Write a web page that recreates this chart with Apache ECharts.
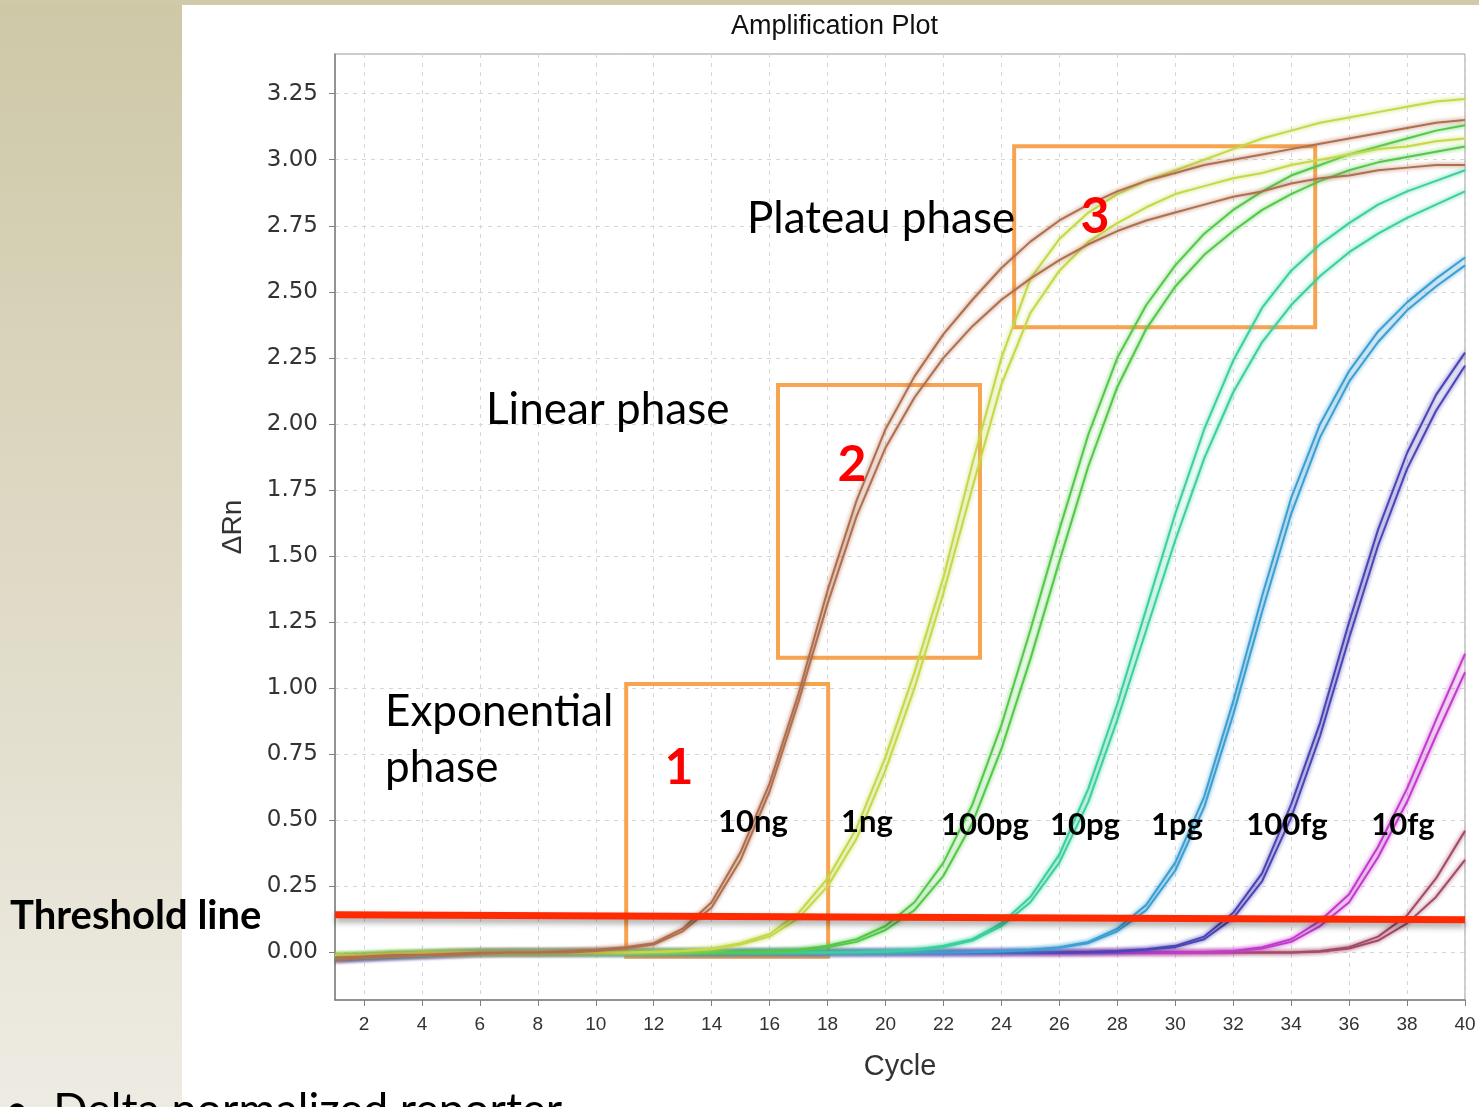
<!DOCTYPE html>
<html>
<head>
<meta charset="utf-8">
<title>Amplification Plot</title>
<script src="https://cdn.jsdelivr.net/npm/echarts@6/dist/echarts.min.js"></script>
<style>
  html, body { margin: 0; padding: 0; background: #fff; }
  #main { width: 1479px; height: 1107px; }
</style>
</head>
<body>
<div id="main"></div>
<script type="text/javascript">
// cycle numbers (x) and tick values
var cycles = [1,2,3,4,5,6,7,8,9,10,11,12,13,14,15,16,17,18,19,20,21,22,23,24,25,26,27,28,29,30,31,32,33,34,35,36,37,38,39,40];
var xTicks = [2,4,6,8,10,12,14,16,18,20,22,24,26,28,30,32,34,36,38,40];
var yTicks = [0,0.25,0.5,0.75,1,1.25,1.5,1.75,2,2.25,2.5,2.75,3,3.25];

// delta Rn per cycle, two replicates per dilution
var ng10a = [-0.02,-0.015,-0.01,-0.01,-0.005,0,0,0,0.005,0.01, 0.02,0.035,0.09,0.19,0.38,0.64,0.98,1.37,1.71,1.98, 2.18,2.34,2.47,2.59,2.69,2.77,2.83,2.88,2.92,2.95, 2.98,3.00,3.02,3.04,3.06,3.08,3.10,3.12,3.14,3.15];
var ng10b = [-0.03,-0.02,-0.015,-0.01,-0.01,-0.005,0,0,0,0.005, 0.015,0.03,0.08,0.17,0.35,0.61,0.95,1.32,1.65,1.91, 2.10,2.25,2.37,2.47,2.55,2.62,2.68,2.73,2.77,2.80, 2.83,2.86,2.88,2.91,2.93,2.94,2.96,2.97,2.98,2.98];
var ng1a = [-0.01,-0.01,-0.005,-0.005,0,0,0,0,0,0, 0,0.003,0.005,0.015,0.035,0.07,0.15,0.28,0.47,0.74, 1.06,1.42,1.85,2.25,2.55,2.70,2.80,2.87,2.92,2.96, 3.00,3.04,3.08,3.11,3.14,3.16,3.18,3.20,3.22,3.23];
var ng1b = [-0.01,-0.01,-0.005,0,0,0,0,0,0,0, 0,0.002,0.005,0.012,0.03,0.06,0.13,0.25,0.43,0.69, 1.00,1.36,1.76,2.15,2.42,2.58,2.69,2.76,2.82,2.87, 2.90,2.93,2.95,2.98,3.00,3.02,3.04,3.05,3.07,3.08];
var pg100a = [-0.01,-0.01,-0.005,0,0,0,0,0,0,0, 0,0,0,0,0.002,0.005,0.01,0.025,0.05,0.10, 0.19,0.34,0.56,0.86,1.22,1.60,1.96,2.25,2.45,2.60, 2.72,2.81,2.88,2.94,2.98,3.02,3.05,3.08,3.11,3.13];
var pg100b = [-0.01,-0.005,0,0,0,0,0,0,0,0, 0,0,0,0,0.001,0.003,0.008,0.02,0.04,0.085, 0.16,0.29,0.49,0.77,1.11,1.48,1.84,2.14,2.36,2.52, 2.64,2.73,2.81,2.87,2.92,2.96,2.99,3.01,3.03,3.05];
var pg10a = [-0.02,-0.015,-0.01,-0.005,0,0,0,0,0,0, 0,0,0,0,0,0,0,0,0.002,0.005, 0.01,0.025,0.05,0.11,0.21,0.37,0.62,0.94,1.30,1.66, 1.98,2.24,2.44,2.58,2.68,2.76,2.83,2.88,2.92,2.96];
var pg10b = [-0.02,-0.01,-0.01,-0.005,0,0,0,0,0,0, 0,0,0,0,0,0,0,0,0.001,0.003, 0.008,0.02,0.045,0.10,0.19,0.34,0.57,0.88,1.22,1.56, 1.87,2.12,2.31,2.45,2.56,2.65,2.72,2.78,2.83,2.88];
var pg1a = [-0.02,-0.02,-0.015,-0.01,-0.005,0,0,0,0,0, 0,0,0,0,0,0,0,0,0,0, 0,0,0.002,0.005,0.01,0.02,0.04,0.09,0.18,0.34, 0.59,0.95,1.35,1.72,2.00,2.20,2.35,2.46,2.55,2.63];
var pg1b = [-0.02,-0.015,-0.01,-0.01,-0.005,0,0,0,0,0, 0,0,0,0,0,0,0,0,0,0, 0,0,0.001,0.004,0.008,0.018,0.035,0.08,0.16,0.31, 0.55,0.90,1.29,1.66,1.95,2.16,2.31,2.43,2.52,2.60];
var fg100a = [-0.025,-0.02,-0.015,-0.01,-0.005,0,0,0,0,0, 0,0,0,0,0,0,0,0,0,0, 0,0,0,0,0,0,0.002,0.005,0.012,0.025, 0.06,0.15,0.30,0.56,0.87,1.25,1.60,1.89,2.11,2.27];
var fg100b = [-0.03,-0.025,-0.02,-0.015,-0.01,-0.005,0,0,0,0, 0,0,0,0,0,0,0,0,0,0, 0,0,0,0,0,0,0.001,0.004,0.01,0.02, 0.05,0.13,0.27,0.51,0.82,1.19,1.54,1.83,2.05,2.22];
var fg10a = [-0.02,-0.015,-0.01,-0.01,-0.005,0,0,0,0,0, 0,0,0,0,0,0,0,0,0,0, 0,0,0,0,0,0,0,0,0,0, 0.002,0.005,0.02,0.05,0.12,0.22,0.40,0.62,0.88,1.13];
var fg10b = [-0.025,-0.02,-0.015,-0.01,-0.005,0,0,0,0,0, 0,0,0,0,0,0,0,0,0,0, 0,0,0,0,0,0,0,0,0,0, 0.001,0.004,0.015,0.04,0.10,0.19,0.36,0.57,0.82,1.06];
var fg1a = [-0.02,-0.015,-0.01,-0.005,0,0,0,0,0,0, 0,0,0,0,0,0,0,0,0,0, 0,0,0,0,0,0,0,0,0,0, 0,0,0,0,0.005,0.02,0.06,0.14,0.28,0.46];
var fg1b = [-0.025,-0.02,-0.01,-0.005,0,0,0,0,0,0, 0,0,0,0,0,0,0,0,0,0, 0,0,0,0,0,0,0,0,0,0, 0,0,0,0,0.003,0.015,0.045,0.11,0.21,0.35];

// threshold line end points
var thresholdX = [1, 40];
var thresholdY = [0.143, 0.124];

var curves = [
  { name: '1fg',   color: '#a34b68', a: fg1a,   b: fg1b },
  { name: '10fg',  color: '#c23ccc', a: fg10a,  b: fg10b },
  { name: '100fg', color: '#4b45b5', a: fg100a, b: fg100b },
  { name: '1pg',   color: '#3d9fd2', a: pg1a,   b: pg1b },
  { name: '10pg',  color: '#3ccfa0', a: pg10a,  b: pg10b },
  { name: '100pg', color: '#55c84a', a: pg100a, b: pg100b },
  { name: '1ng',   color: '#c5d84a', a: ng1a,   b: ng1b },
  { name: '10ng',  color: '#b06f4e', a: ng10a,  b: ng10b }
];

function pairs(xs, ys) {
  var out = [];
  for (var i = 0; i < xs.length; i++) out.push([xs[i], ys[i]]);
  return out;
}

var series = [];
curves.forEach(function (c) {
  [c.a, c.b].forEach(function (vals) {
    series.push({
      name: c.name,
      type: 'line',
      data: pairs(cycles, vals),
      showSymbol: false,
      lineStyle: { color: c.color, width: 2, shadowColor: c.color, shadowBlur: 4 },
      z: 3
    });
  });
});

// orange phase boxes (data coordinates)
var boxStyle = { color: 'rgba(0,0,0,0)', borderColor: '#f8a34f', borderWidth: 4 };
series.push({
  name: 'threshold',
  type: 'line',
  data: pairs(thresholdX, thresholdY),
  showSymbol: false,
  lineStyle: { color: '#ff2a00', width: 7, shadowColor: 'rgba(0,0,0,0.35)', shadowBlur: 6, shadowOffsetY: 4 },
  z: 5,
  markArea: {
    silent: true,
    label: { show: false },
    itemStyle: boxStyle,
    data: [
      [{ coord: [11.05, 1.016] }, { coord: [18.02, -0.016] }],
      [{ coord: [16.29, 2.147] }, { coord: [23.26, 1.115] }],
      [{ coord: [24.44, 3.051] }, { coord: [34.83, 2.366] }]
    ]
  }
});

var annoFont = 'Lato, "Open Sans", sans-serif';
function txt(text, x, y, size, weight, color, align) {
  return {
    type: 'text', z: 100,
    style: {
      text: text, x: x, y: y,
      font: (weight || 'normal') + ' ' + size + 'px ' + annoFont,
      fill: color || '#000',
      align: align || 'left', verticalAlign: 'middle'
    }
  };
}

var chart = echarts.init(document.getElementById('main'));
chart.setOption({
  animation: false,
  backgroundColor: '#ffffff',
  title: {
    text: 'Amplification Plot',
    left: 726, top: 8,
    textStyle: { fontFamily: 'Liberation Sans', fontSize: 27, fontWeight: 'normal', color: '#111' }
  },
  grid: {
    left: 335, right: 14, top: 54, bottom: 107,
    show: true, borderColor: '#9a9a9a', borderWidth: 1, backgroundColor: 'rgba(0,0,0,0)'
  },
  xAxis: {
    type: 'value', min: 1, max: 40,
    name: 'Cycle', nameLocation: 'middle', nameGap: 52,
    nameTextStyle: { fontFamily: 'Liberation Sans', fontSize: 29, color: '#333' },
    axisLine: { onZero: false, lineStyle: { color: '#7f7f7f', width: 1.5 } },
    axisTick: { show: true, length: 6, customValues: xTicks, lineStyle: { color: '#7f7f7f' } },
    axisLabel: { customValues: xTicks, fontFamily: 'Liberation Sans', fontSize: 19, color: '#333', margin: 15 },
    splitLine: { show: true, lineStyle: { color: '#d6d6d6', type: [4, 5] } }
  },
  yAxis: {
    type: 'value', min: -0.18, max: 3.40,
    name: 'ΔRn', nameLocation: 'middle', nameGap: 88, nameRotate: 90,
    nameTextStyle: { fontFamily: 'Liberation Sans', fontSize: 28, color: '#333' },
    axisLine: { show: true, onZero: false, lineStyle: { color: '#7f7f7f', width: 1.5 } },
    axisTick: { show: true, length: 6, customValues: yTicks, lineStyle: { color: '#7f7f7f' } },
    axisLabel: {
      customValues: yTicks, fontFamily: 'DejaVu Sans', fontSize: 23, color: '#333', margin: 17,
      formatter: function (v) { return v.toFixed(2); }
    },
    splitLine: { show: true, lineStyle: { color: '#d6d6d6', type: [4, 5] } }
  },
  series: series,
  graphic: [
    {
      type: 'rect', z: -10, shape: { x: 0, y: 0, width: 182, height: 1107 },
      style: { fill: new echarts.graphic.LinearGradient(0, 0, 0, 1, [
        { offset: 0, color: '#cec8a7' }, { offset: 1, color: '#eeebe3' }]) }
    },
    { type: 'rect', z: -10, shape: { x: 0, y: 0, width: 1479, height: 5 }, style: { fill: '#d0caab' } },
    txt('Plateau phase', 747, 219, 44),
    txt('Linear phase', 486, 410, 44),
    txt('Exponential', 385, 712, 44),
    txt('phase', 385, 768, 44),
    txt('3', 1095, 217, 50, 'bold', '#ff0000', 'center'),
    txt('2', 852, 465, 50, 'bold', '#ff0000', 'center'),
    txt('1', 679, 768, 50, 'bold', '#ff0000', 'center'),
    txt('10ng', 753, 822, 31, 'bold', '#000', 'center'),
    txt('1ng', 867, 822, 31, 'bold', '#000', 'center'),
    txt('100pg', 985, 825, 31, 'bold', '#000', 'center'),
    txt('10pg', 1085, 825, 31, 'bold', '#000', 'center'),
    txt('1pg', 1177, 825, 31, 'bold', '#000', 'center'),
    txt('100fg', 1287, 825, 31, 'bold', '#000', 'center'),
    txt('10fg', 1403, 825, 31, 'bold', '#000', 'center'),
    txt('Threshold line', 10, 916, 40, 'bold', '#000'),
    txt('•  Delta normalized reporter', 4, 1110, 45)
  ]
});
</script>
</body>
</html>
